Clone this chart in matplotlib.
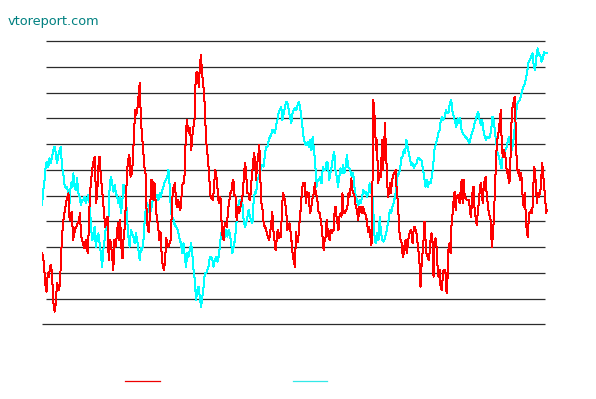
import numpy as np
import matplotlib
matplotlib.use("Agg")
import matplotlib.pyplot as plt
from matplotlib.lines import Line2D

# Series values, one list per quarter of the time range
red_q1 = [21, 20, 16, 11.5, 9.5, 15, 14, 17, 17.4, 12.5, 6, 3.5, 6, 12, 11, 10, 15, 23, 29, 32,
          34, 36.5, 38, 39, 31, 33, 33.5, 25, 27, 28.5, 29, 30, 30.5, 33, 26, 25, 23.5, 22.5, 25, 22,
          21, 33, 40, 44, 47, 49, 50, 36, 39, 47, 50, 45, 41, 37, 33, 29, 31, 32, 19, 25,
          24, 20, 16, 25, 23, 26, 30, 25, 31, 23, 19.5, 26, 29, 37, 46, 49, 50.5, 44, 45, 48.5,
          57, 64, 62.5, 64.5, 68.5, 72, 61, 56, 52, 47, 45, 33, 28, 27.5, 34, 43, 43, 37, 42, 35,
          31, 29, 25, 27.5, 21, 17, 16, 18.5, 25.5, 24]
red_q2 = [23, 24, 25, 33, 40, 41, 42, 36, 35, 37, 35, 34, 38, 42, 42, 45, 56.5, 61, 58, 57,
          58.5, 52, 56, 59, 60.5, 72, 75.5, 75, 71, 77, 80.5, 75, 72, 69, 61, 54, 51, 47, 42, 37.5,
          38, 37, 40, 46, 45, 42, 37, 36, 38, 31, 26, 25, 30, 30, 29, 34, 36, 39, 39, 42,
          43, 38.5, 38, 31, 35, 33, 34, 36, 37, 40, 46, 48, 44, 39, 39, 37, 39, 44, 47, 51,
          49, 43, 48, 50, 53.5, 43, 36, 34, 30, 29, 28.5, 27, 26, 25, 27, 30, 33.5, 28, 25, 22,
          25, 28, 25.5, 27, 26, 35, 39, 38, 36, 33, 28, 29, 30, 27, 24, 20, 18.5]
red_q3 = [17, 27.5, 25, 24.5, 28, 32, 35, 40, 42, 42, 42, 36, 39.5, 38, 39, 33, 34, 36, 38, 39,
          42, 39, 38, 36, 33, 33, 31, 29, 25.5, 22, 25, 26, 31, 28, 26, 25, 28, 27, 27.5, 28,
          33, 35, 32, 30, 28, 32, 33, 32, 39, 34, 33, 33.5, 34, 35, 39, 38, 40, 43.5, 40, 39,
          38.5, 36, 35, 33, 31, 35, 33.5, 35, 33, 35, 33, 33, 32, 30, 27.5, 29, 27, 23.5, 25, 67,
          65, 59, 52, 55, 42, 44, 45, 44, 55, 46, 51, 60, 52, 45, 38, 39, 42, 39, 42, 44,
          45, 45.5, 46, 39, 37, 31, 26, 25, 24, 20, 21, 24, 25, 21, 23, 26, 27, 28, 27, 24,
          28, 29, 28, 27, 24, 21.5, 18, 11]
red_q4 = [17, 21, 25, 30.5, 25, 21, 20, 19, 21, 25, 27, 24, 14, 25, 25.5, 23, 17, 14, 16, 11,
          10, 13, 16, 16, 15, 9, 14, 23, 24, 21, 30.5, 33, 37, 39.5, 34, 38, 38.5, 38, 36, 40,
          43, 36, 43, 38, 37.5, 37, 37, 37, 35, 32, 35, 40.5, 41, 33, 32, 29.5, 33, 36, 40, 42,
          40, 36, 41, 43, 44, 38, 36, 33, 32, 31, 23, 26, 31, 39, 47, 54, 56, 58, 61, 64,
          53, 50, 52, 51, 49, 45, 46, 42, 43, 53, 64, 65, 67, 68, 56, 47, 45, 46, 43, 45,
          43, 36, 35, 39, 31, 27, 26, 33, 33, 34, 33, 36, 47, 46, 41, 36, 39, 38, 39, 41,
          48, 46, 41, 39, 33, 34]

cyan_q1 = [35.5, 40, 43, 47.5, 48.5, 47, 49.5, 48, 50, 52, 53, 51, 48, 50.5, 52, 53, 47, 45, 41.5, 40.5,
           41, 39, 36, 42, 41, 45, 41, 40, 43.5, 39, 38, 35.5, 37, 37, 38, 36, 37.5, 38.5, 36, 30,
           25, 26, 29, 23, 26, 27, 24, 21, 17, 22, 25, 29, 32, 31, 41, 44, 42, 39.5, 41.5, 39,
           38, 36, 38, 33, 36, 41.5, 41, 38, 31, 26, 23, 28, 27, 26, 24, 27, 25, 22, 19, 22.5,
           22, 25, 31, 35, 36, 35, 33, 34, 36, 39, 38, 38, 38.5, 37, 39, 38, 40, 41, 42.5, 43, 44]
cyan_q2 = [46, 41, 33, 32, 31, 29.5, 29, 28.5, 27, 25, 24, 21, 24, 20, 17, 21, 20, 22, 24, 21,
           16, 13, 7, 10, 11, 8, 5, 8, 11, 15, 15, 16, 17, 20, 20, 19, 17, 19, 20, 18.5,
           20, 23, 27, 26, 27, 26, 28, 26, 28, 27, 24, 21, 23, 25, 29, 33, 36, 37, 35, 36,
           31, 29, 30, 32, 34, 32, 31, 30, 37, 39.5, 39, 43, 44, 45, 47, 47.5, 47, 51, 53, 53,
           55, 56, 56.5, 58, 58, 57, 59.5, 61, 63.5, 64, 65, 61, 63, 65, 66.5, 66, 64, 62, 60, 63, 64]
cyan_q3 = [64.5, 64, 65.5, 66.5, 65, 62, 58.5, 55, 54, 53.5, 54.5, 53, 55, 52, 56, 52, 48, 41, 43, 43,
           44, 42, 47, 46, 46, 48.5, 48, 43, 45, 47, 50, 51.5, 46, 44, 41, 44, 46.5, 45, 47.5, 45,
           47, 50.5, 47, 46.5, 45.5, 44, 45, 41, 38, 37, 35.5, 37, 36, 38, 40, 39, 39.5, 38, 39, 42,
           39, 39.5, 33, 25, 24, 27, 25, 32, 27, 25, 24.5, 25.5, 27, 29, 31, 34, 33, 35, 36, 38,
           40, 44, 45, 46, 49.5, 50, 52, 51, 55, 53, 51, 49, 47.5, 48, 46.5, 47.5, 48, 49.5, 49.5, 49]
cyan_q4 = [49, 46.5, 44, 41, 43, 41, 42.5, 42, 44, 47, 52, 53.5, 55, 57, 58, 61, 62, 61, 62, 64,
           63, 63.5, 66, 67, 63.5, 62, 60.5, 59, 61.5, 60, 61.5, 58, 57, 56.5, 56, 55.5, 55, 54, 55.5, 57,
           58, 60, 61, 62.5, 63.5, 61, 59.5, 61, 58, 56, 55, 56, 55.5, 56, 58, 62, 61, 57, 54, 51,
           50, 48, 46.5, 51, 50, 52, 53, 55, 56, 54, 52, 54, 58, 62, 65.5, 66.5, 67, 68, 70, 71,
           72, 73.5, 76, 78.5, 79, 80, 81, 77, 76, 80, 82.5, 80.5, 80.5, 78.5, 79.5, 81.5, 81, 81]

red_quarters = [red_q1, red_q2, red_q3, red_q4]
cyan_quarters = [cyan_q1, cyan_q2, cyan_q3, cyan_q4]

grid_step = 7.73
grid_base = -0.3
n_grid = 12


def build(quarters):
    xs, ys = [], []
    for q, vals in enumerate(quarters):
        n = len(vals)
        xs.append(q + np.arange(n) / n)
        ys.append(np.asarray(vals, dtype=float))
    return np.concatenate(xs), np.concatenate(ys)


W, H = 596, 399
fig = plt.figure(figsize=(W / 100, H / 100), dpi=100)
fig.patch.set_facecolor("white")

ax_left, ax_right = 42, 548
ax_top, ax_bottom = 41, 324.3
ax = fig.add_axes([ax_left / W, (H - ax_bottom) / H,
                   (ax_right - ax_left) / W, (ax_bottom - ax_top) / H])
ax.set_xlim(0, 4)
ax.set_ylim(grid_base, grid_base + grid_step * (n_grid - 1))
ax.axis("off")

# horizontal grid lines
x0_frac = (46 - ax_left) / (ax_right - ax_left)
x1_frac = (545 - ax_left) / (ax_right - ax_left)
for k in range(n_grid):
    yv = grid_base + k * grid_step
    start = 0.0 if k == 0 else x0_frac
    ax.plot([start, x1_frac], [yv, yv], color="#2b2b2b", lw=0.9,
            transform=ax.get_yaxis_transform(), clip_on=False, zorder=1,
            solid_capstyle="butt")

xr, yr = build(red_quarters)
xc, yc = build(cyan_quarters)
ax.plot(xr, yr, color="#ff0000", lw=0.72, zorder=3, antialiased=False)
ax.plot(xc, yc, color="#00ffff", lw=0.72, zorder=2, antialiased=False)

# legend swatches (no labels)
ly = (H - 381) / H
fig.add_artist(Line2D([125 / W, 160 / W], [ly, ly], color="#ee0000", lw=0.9))
fig.add_artist(Line2D([293 / W, 327 / W], [ly, ly], color="#33e8e8", lw=0.9))

fig.text(8 / W, (H - 21) / H, "vtoreport.com", color="#008080", fontsize=9.3,
         family="DejaVu Sans", va="center", ha="left")

fig.savefig("out.png", dpi=100, facecolor="white")
